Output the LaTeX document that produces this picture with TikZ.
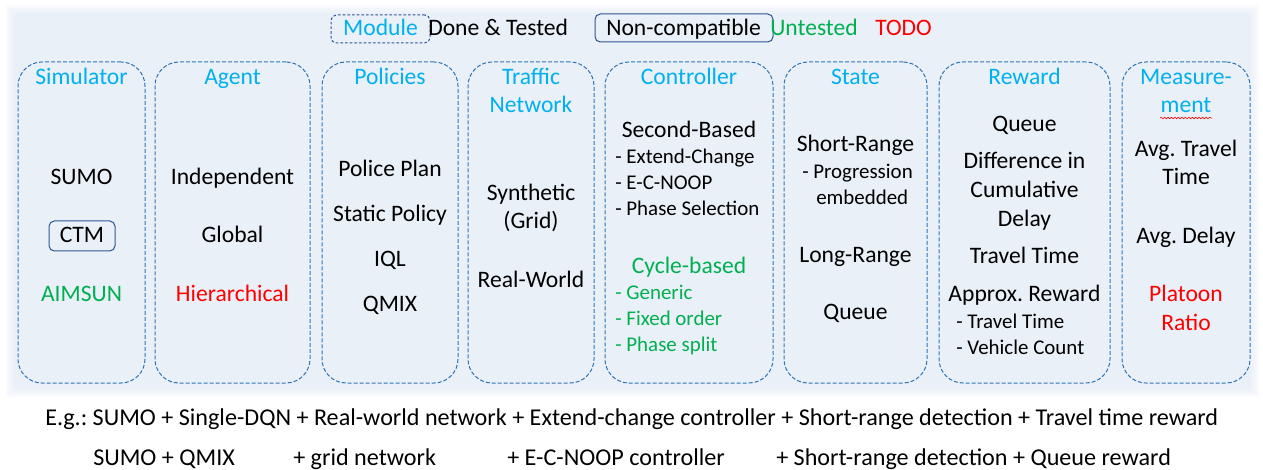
\documentclass[tikz,border=0pt]{standalone}
\usepackage{fontspec}
\setmainfont{Carlito}
\frenchspacing
\usetikzlibrary{fit,decorations.pathmorphing}
\definecolor{ttl}{RGB}{0,176,240}
\definecolor{grn}{RGB}{0,176,80}
\definecolor{rd}{RGB}{255,0,0}
\definecolor{dashb}{RGB}{46,117,182}
\definecolor{darkb}{RGB}{47,85,151}
\definecolor{panel}{RGB}{234,240,248}
\begin{document}
\begin{tikzpicture}[x=0.75pt,y=-0.75pt,
  colbox/.style={draw=dashb, line width=0.75pt, dash pattern=on 3pt off 1.5pt, rounded corners=18pt, inner sep=0pt},
  legdash/.style={draw=darkb, line width=0.75pt, dash pattern=on 2pt off 1.5pt, rounded corners=4pt, inner sep=0pt},
  solidbox/.style={draw=darkb, line width=0.75pt, rounded corners=4pt, inner sep=0pt},
  big/.style={font=\fontsize{17.7}{21}\selectfont, inner sep=0pt, anchor=base},
  bigw/.style={font=\fontsize{17.7}{21}\selectfont, inner sep=0pt, anchor=base west},
  exw/.style={font=\fontsize{18.1}{21}\selectfont, inner sep=0pt, anchor=base west},
  small/.style={font=\fontsize{15.7}{19}\selectfont, inner sep=0pt, anchor=base west},
  title/.style={big, text=ttl}
]
\useasboundingbox (0,0) rectangle (1263,470);
% panel
\foreach \i in {1,...,8} \fill[panel, opacity=0.18] ({14-\i},{13-\i}) rectangle ({1251+\i},{389+\i});
\fill[panel] (14,13) rectangle (1251,389);

% legend
\node[legdash, fit={(331,15) (430,43)}] (legmod) {};
\node[big, text=ttl] (legmodt) at (380.5,36) {Module};
\node[bigw] (legdone) at (428,36) {Done \& Tested};
\node[solidbox, fit={(595,14) (773,42)}] (legnc) {};
\node[bigw] (legnct) at (606,35.5) {Non-compatible};
\node[bigw, text=grn] (legun) at (770,36) {Untested};
\node[bigw, text=rd] (legtodo) at (875,36) {TODO};

% columns
\node[colbox, fit={(18,62) (145,383)}] (csim) {};
\node[colbox, fit={(155,62) (310,383)}] (cagent) {};
\node[colbox, fit={(322,62) (458,383)}] (cpol) {};
\node[colbox, fit={(468,62) (594,383)}] (cnet) {};
\node[colbox, fit={(605,62) (773,383)}] (cctrl) {};
\node[colbox, fit={(784,62) (927,383)}] (cstate) {};
\node[colbox, fit={(939,62) (1110,383)}] (crew) {};
\node[colbox, fit={(1122,62) (1250,383)}] (cmeas) {};

% Simulator
\node[title] (tsim) at (81.5,84.5) {Simulator};
\node[big] (sumo) at (81.5,185) {SUMO};
\node[solidbox, fit={(49,221) (115,251)}] (ctmbox) {};
\node[big] (ctm) at (82,242.7) {CTM};
\node[big, text=grn] (aimsun) at (81.5,301) {AIMSUN};

% Agent
\node[title] (tagent) at (232.5,84.5) {Agent};
\node[big] (indep) at (232.5,184.5) {Independent};
\node[big] (global) at (232.5,242.7) {Global};
\node[big, text=rd] (hier) at (232.5,301) {Hierarchical};

% Policies
\node[title] (tpol) at (390,84.5) {Policies};
\node[big] (pplan) at (390,176.7) {Police Plan};
\node[big] (spol) at (390,221.7) {Static Policy};
\node[big] (iql) at (390,266.7) {IQL};
\node[big] (qmix) at (390,311.7) {QMIX};

% Traffic Network
\node[title] (tnet1) at (531,84.5) {Traffic};
\node[title] (tnet2) at (531,112.8) {Network};
\node[big] (synth) at (531,200.7) {Synthetic};
\node[big] (grid) at (531,229) {(Grid)};
\node[big] (realw) at (531,287.3) {Real-World};

% Controller
\node[title] (tctrl) at (689,84.5) {Controller};
\node[big] (secb) at (689,137.3) {Second-Based};
\node[small] (ec) at (615,164) {- Extend-Change};
\node[small] (ecn) at (615,190) {- E-C-NOOP};
\node[small] (ps) at (615,216) {- Phase Selection};
\node[big, text=grn] (cycb) at (689,273.3) {Cycle-based};
\node[small, text=grn] (gen) at (615,300) {- Generic};
\node[small, text=grn] (fix) at (615,325.7) {- Fixed order};
\node[small, text=grn] (psp) at (615,351.7) {- Phase split};

% State
\node[title] (tstate) at (855.5,84.5) {State};
\node[big] (shr) at (855.5,151.7) {Short-Range};
\node[small] (prog) at (802,179) {- Progression};
\node[small] (emb) at (816,205) {embedded};
\node[big] (lor) at (855.5,262.3) {Long-Range};
\node[big] (squeue) at (855.5,320) {Queue};

% Reward
\node[title] (trew) at (1024.5,84.5) {Reward};
\node[big] (rqueue) at (1024.5,131.7) {Queue};
\node[big] (diff1) at (1024.5,168.3) {Difference in};
\node[big] (diff2) at (1024.5,197.7) {Cumulative};
\node[big] (diff3) at (1024.5,226.7) {Delay};
\node[big] (rtt) at (1024.5,263.3) {Travel Time};
\node[big] (appr) at (1024.5,301) {Approx. Reward};
\node[small] (att) at (956,328.3) {- Travel Time};
\node[small] (avc) at (956,354.3) {- Vehicle Count};

% Measurement
\node[title] (tmeas1) at (1186,84.5) {Measure-};
\node[title] (tmeas2) at (1186,112.8) {ment};
\coordinate (wl) at (1160,118);
\coordinate (wr) at (1212,118);
\draw[rd, line width=0.45pt, decorate, decoration={snake, amplitude=0.6pt, segment length=2.6pt}] (wl) -- (wr);
\node[big] (att1) at (1186,156.7) {Avg. Travel};
\node[big] (att2) at (1186,185) {Time};
\node[big] (adel) at (1186,243.3) {Avg. Delay};
\node[big, text=rd] (plat1) at (1186,301.7) {Platoon};
\node[big, text=rd] (plat2) at (1186,330) {Ratio};

% examples
\node[exw] (ex1) at (45,425) {E.g.: SUMO + Single-DQN + Real-world network + Extend-change controller + Short-range detection + Travel time reward};
\node[exw] (ex2a) at (93,465) {SUMO + QMIX};
\node[exw] (ex2b) at (293,465) {+ grid network};
\node[exw] (ex2c) at (507,465) {+ E-C-NOOP controller};
\node[exw] (ex2d) at (776,465) {+ Short-range detection + Queue reward};
\end{tikzpicture}
\end{document}
